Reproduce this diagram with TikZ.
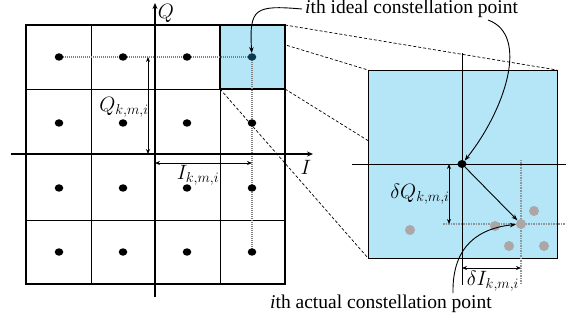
\documentclass[tikz,border=0pt]{standalone}
\usepackage{fontspec}
\setmainfont{Liberation Serif}
\usetikzlibrary{arrows.meta}
\definecolor{lblue}{RGB}{180,230,248}
\definecolor{darkdot}{RGB}{10,58,75}
\definecolor{gdotc}{RGB}{172,166,166}
\definecolor{dotline}{RGB}{140,150,155}
\begin{document}
\begin{tikzpicture}[x=1pt,y=-1pt,
  dot/.style={ellipse,fill=black,inner sep=0pt,minimum width=8.5pt,minimum height=7.5pt},
  gdot/.style={circle,fill=gdotc,inner sep=0pt,minimum size=10pt},
  gridline/.style={line width=0.9pt},
  outer/.style={line width=1.8pt},
  axis/.style={line width=1.4pt,-{Stealth[length=6pt,width=5pt]}},
  raxis/.style={line width=0.9pt},
  zoomline/.style={dash pattern=on 3pt off 2pt,line width=0.7pt},
  guide/.style={dash pattern=on 1pt off 1pt,gray,line width=1.1pt},
  rguide/.style={dash pattern=on 1.5pt off 1pt,dotline,line width=1.4pt},
  dim/.style={{Stealth[length=5pt,width=4pt]}-{Stealth[length=5pt,width=4pt]},line width=0.9pt},
  lbl/.style={font=\fontsize{19.5}{22}\selectfont,inner sep=0pt},
  mlbl/.style={font=\fontsize{20}{24}\selectfont,inner sep=0pt},
  ptr/.style={-{Stealth[length=6pt,width=4.5pt]},line width=0.9pt}]
\usetikzlibrary{shapes.geometric}
\useasboundingbox (0,0) rectangle (566,321);

% zoom lines (behind the big box)
\draw[zoomline] (285,25) -- (557,70);
\draw[zoomline] (220,25) -- (368,70);
\draw[zoomline] (285,89) -- (557,258);
\draw[zoomline] (220,89) -- (368,258);

% highlighted cell
\fill[lblue] (220,25) rectangle (285,89);

% grid
\draw[gridline] (91,25) -- (91,284);
\draw[gridline] (220,25) -- (220,284);
\draw[gridline] (26,89) -- (285,89);
\draw[gridline] (26,220) -- (285,220);
\draw[line width=1.3pt] (220,25) rectangle (285,89);
\draw[outer] (26,25) rectangle (285,284);

% guides
\draw[guide] (59,57) -- (252,57) -- (252,252);

% axes
\coordinate (qs) at (155,297);
\coordinate (qe) at (155,3);
\coordinate (is) at (11,154);
\coordinate (ie) at (313,154);
\draw[axis] (qs) -- (qe);
\draw[axis] (is) -- (ie);
\node[mlbl,font=\fontsize{20}{22}\selectfont] (qlab) at (166,13) {$Q$};
\node[mlbl,font=\fontsize{20}{22}\selectfont] (ilab) at (306,167) {$I$};

% dots
\foreach \i/\x in {1/59,2/123,3/187,4/252}{
  \foreach \j/\y in {1/57,2/123,3/188,4/252}{
    \ifnum\i=4 \ifnum\j=1 \else
      \node[dot] (d\i\j) at (\x,\y) {};
    \fi\else
      \node[dot] (d\i\j) at (\x,\y) {};
    \fi
  }
}
\node[dot,fill=darkdot] (hdot) at (252,57) {};

% dimension arrows left
\coordinate (qa) at (148,57);
\coordinate (qb) at (148,154);
\draw[dim] (qa) -- (qb);
\node[mlbl] (qkmi) at (124,107) {$Q_{k,m,i}$};
\coordinate (ia) at (155,163);
\coordinate (ib) at (252,163);
\draw[dim] (ia) -- (ib);
\node[mlbl] (ikmi) at (198,175) {$I_{k,m,i}$};

% big box
\filldraw[fill=lblue,line width=0.9pt] (368,70) rectangle (557,258);

% right axes
\coordinate (rva) at (462,53);
\coordinate (rvb) at (462,285);
\coordinate (rha) at (352,164);
\coordinate (rhb) at (566,164);
\draw[raxis] (rva) -- (rvb);
\draw[raxis] (rha) -- (rhb);

% right guides
\coordinate (gha) at (443,224);
\coordinate (ghb) at (566,224);
\coordinate (gva) at (521,160);
\coordinate (gvb) at (521,285);
\draw[rguide] (gha) -- (ghb);
\draw[rguide] (gva) -- (gvb);

% gray dots
\node[gdot] (g1) at (410,230) {};
\node[gdot] (g2) at (495,226) {};
\node[gdot] (g3) at (534,211) {};
\node[gdot] (g4) at (509,246) {};
\node[gdot] (g5) at (544,246) {};
\node[gdot] (actual) at (521,224) {};
\node[dot,minimum width=9pt,minimum height=8pt] (ideal) at (462,164) {};

\draw[ptr] (ideal) -- (actual);

% dimension arrows right
\coordinate (dqa) at (449,164);
\coordinate (dqb) at (449,224);
\draw[dim] (dqa) -- (dqb);
\node[mlbl] (dq) at (420,194) {$\delta Q_{k,m,i}$};
\coordinate (dia) at (462,268);
\coordinate (dib) at (521,268);
\draw[dim] (dia) -- (dib);
\node[mlbl] (di) at (493,281) {$\delta I_{k,m,i}$};

% texts
\node[lbl,anchor=base west] (t1) at (305,14) {\textit{i}th ideal constellation point};
\node[lbl,anchor=base west] (t2) at (270,308) {\textit{i}th actual constellation point};

% pointers
\coordinate (p1) at (302,9);
\draw[ptr] (p1) .. controls (255,5) and (249,8) .. (hdot);
\coordinate (p2) at (488,20);
\draw[ptr] (p2) .. controls (530,35) and (505,110) .. (ideal);
\coordinate (p3) at (453,293);
\draw[ptr] (p3) .. controls (452,245) and (480,228) .. (actual);
\end{tikzpicture}
\end{document}
